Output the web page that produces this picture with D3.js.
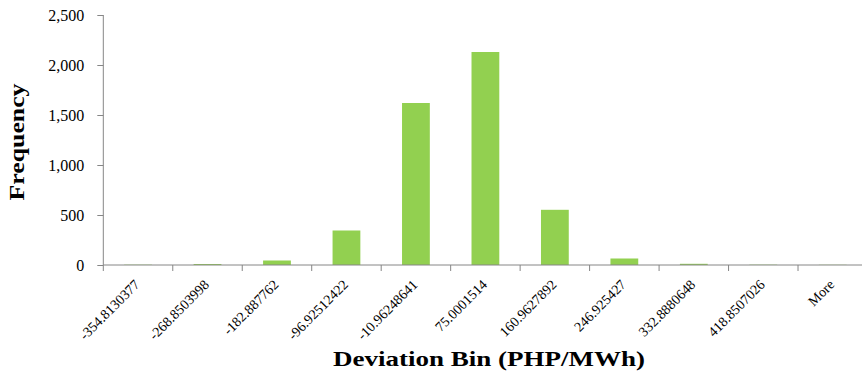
<!DOCTYPE html>
<html>
<head>
<meta charset="utf-8">
<script src="https://cdn.jsdelivr.net/npm/d3@7"></script>
<style>
  html, body { margin: 0; padding: 0; background: #fff; }
  svg { display: block; }
  svg text { font-family: 'Liberation Serif', 'DejaVu Serif', serif; }
</style>
</head>
<body>
<div id="chart"></div>
<script>
// Histogram of price deviation bins
const bins = ["-354.8130377", "-268.8503998", "-182.887762", "-96.92512422", "-10.96248641",
              "75.0001514", "160.9627892", "246.925427", "332.8880648", "418.8507026", "More"];
const frequency = [3, 10, 45, 345, 1620, 2130, 552, 65, 12, 3, 2];
const yTicks = [0, 500, 1000, 1500, 2000, 2500];

const W = 862, H = 374;
const margin = { left: 103.3, top: 15, bottom: 265 };
const xRight = 867.5;

const svg = d3.select("#chart").append("svg")
  .attr("width", W).attr("height", H);

const x = d3.scaleBand().domain(bins).range([margin.left, xRight]).padding(0);
const y = d3.scaleLinear().domain([0, 2500]).range([margin.bottom, margin.top]);

const axisColor = "#868686";

// Bars
const barW = x.bandwidth() * 0.4;
svg.append("g").selectAll("rect").data(bins).join("rect")
  .attr("x", (d) => x(d) + (x.bandwidth() - barW) / 2)
  .attr("width", barW)
  .attr("y", (d, i) => y(frequency[i]))
  .attr("height", (d, i) => y(0) - y(frequency[i]))
  .attr("fill", "#92D050");

// Y axis
const yAxis = svg.append("g")
  .attr("transform", `translate(${margin.left},0)`)
  .call(d3.axisLeft(y).tickValues(yTicks).tickSize(6).tickPadding(13)
    .tickFormat(d3.format(",")));
yAxis.attr("font-family", null).attr("font-size", null);
yAxis.select(".domain").attr("stroke", axisColor).attr("d", `M0,${y(0)}V${y(2500)}`);
yAxis.selectAll(".tick line").attr("stroke", axisColor);
yAxis.selectAll(".tick text").attr("fill", "#000").style("font-size", "16px");

// X axis: ticks at bin boundaries
const xAxisG = svg.append("g").attr("transform", `translate(0,${y(0)})`);
xAxisG.append("line")
  .attr("x1", margin.left).attr("x2", xRight)
  .attr("stroke", axisColor);
const boundaries = bins.map((d) => x(d));
xAxisG.selectAll("line.tk").data(boundaries).join("line")
  .attr("class", "tk")
  .attr("x1", (d) => d).attr("x2", (d) => d)
  .attr("y1", 0).attr("y2", 6)
  .attr("stroke", axisColor);
xAxisG.selectAll("text").data(bins).join("text")
  .attr("transform", (d) => `translate(${x(d) + x.bandwidth() / 2 - 1},${17}) rotate(-45)`)
  .attr("text-anchor", "end")
  .attr("dy", "0.35em")
  .style("font-size", "14px")
  .attr("fill", "#000")
  .text((d) => d);

// Axis titles
svg.append("text")
  .attr("x", 489).attr("y", 366)
  .attr("text-anchor", "middle")
  .attr("textLength", 312).attr("lengthAdjust", "spacingAndGlyphs")
  .style("font-size", "22px").style("font-weight", "bold")
  .text("Deviation Bin (PHP/MWh)");

svg.append("text")
  .attr("transform", `translate(24,142) rotate(-90)`)
  .attr("text-anchor", "middle")
  .attr("textLength", 117).attr("lengthAdjust", "spacingAndGlyphs")
  .style("font-size", "22px").style("font-weight", "bold")
  .text("Frequency");
</script>
</body>
</html>
